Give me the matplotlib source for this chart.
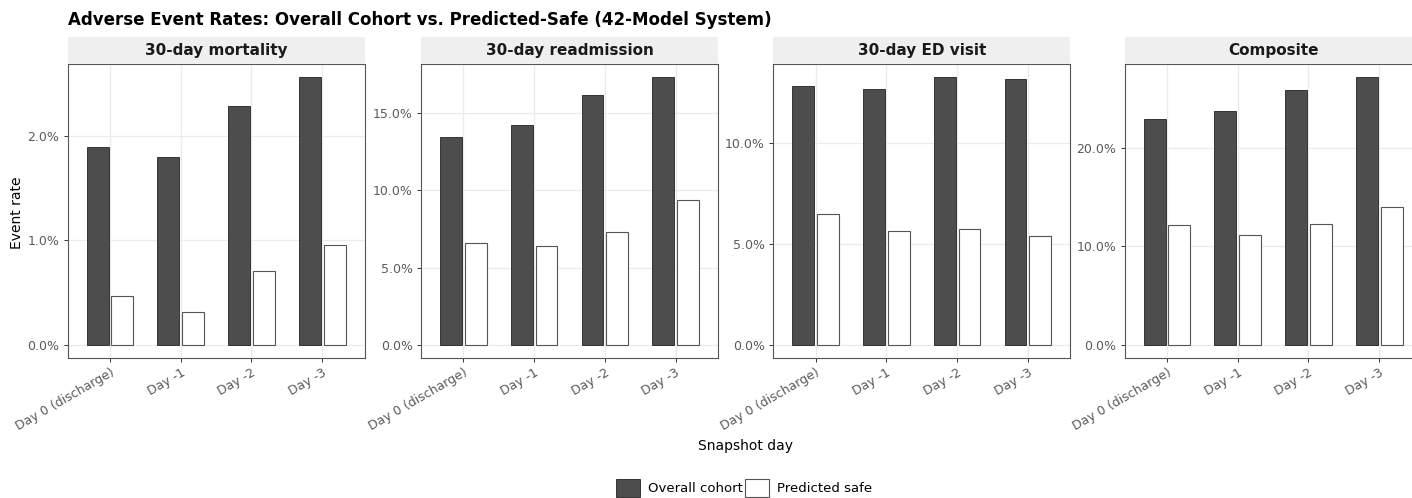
import numpy as np
import matplotlib
matplotlib.use("Agg")
from matplotlib import pyplot as plt
from matplotlib.ticker import FuncFormatter
from matplotlib.patches import Patch

# values (percent)
days = ["Day 0 (discharge)", "Day -1", "Day -2", "Day -3"]
outcomes = ["30-day mortality", "30-day readmission", "30-day ED visit", "Composite"]

overall_mortality = [1.89, 1.80, 2.29, 2.56]
safe_mortality = [0.47, 0.31, 0.71, 0.95]
overall_readmit = [13.44, 14.25, 16.18, 17.33]
safe_readmit = [6.58, 6.41, 7.29, 9.38]
overall_ed = [12.81, 12.65, 13.25, 13.17]
safe_ed = [6.47, 5.65, 5.74, 5.41]
overall_comp = [23.02, 23.76, 25.94, 27.21]
safe_comp = [12.15, 11.17, 12.28, 14.06]

overall = [overall_mortality, overall_readmit, overall_ed, overall_comp]
safe = [safe_mortality, safe_readmit, safe_ed, safe_comp]
yticks = [[0, 1, 2], [0, 5, 10, 15], [0, 5, 10], [0, 10, 20]]

W, H = 1412, 498
fig = plt.figure(figsize=(W / 100, H / 100), dpi=100)

DARK = "#4D4D4D"
GRID = "#EBEBEB"
TXT = "#4D4D4D"

lefts = [67.6, 421.0, 773.3, 1124.6]
pw = 297.0
top, bottom = 64.0, 358.0
strip_h = 27.0

x = np.arange(len(days))
off = 0.175
bw = 0.31

for i, name in enumerate(outcomes):
    ax = fig.add_axes([lefts[i] / W, 1 - bottom / H, pw / W, (bottom - top) / H])
    ov = np.array(overall[i])
    sf = np.array(safe[i])
    ax.bar(x - off, ov, width=bw, color=DARK, edgecolor="#222222", linewidth=0.6, zorder=3)
    ax.bar(x + off, sf, width=bw, color="white", edgecolor="#555555", linewidth=0.8, zorder=3)
    ymax = max(ov.max(), sf.max())
    ax.set_ylim(-0.05 * ymax, 1.05 * ymax)
    ax.set_xlim(-0.6, len(days) - 0.4)
    ax.set_yticks(yticks[i])
    ax.yaxis.set_major_formatter(FuncFormatter(lambda v, p: f"{v:.1f}%"))
    ax.set_xticks(x)
    ax.set_xticklabels(days, rotation=30, ha="right", rotation_mode="anchor")
    ax.tick_params(axis="both", labelsize=9, colors=TXT, length=3, width=0.7, pad=3)
    ax.tick_params(axis="both", labelcolor="#5A5A5A", color="#333333")
    ax.grid(True, color=GRID, linewidth=0.9, zorder=0)
    ax.set_axisbelow(True)
    for s in ax.spines.values():
        s.set_color("#555555")
        s.set_linewidth(0.8)

    # facet strip
    sax = fig.add_axes([lefts[i] / W, 1 - top / H, pw / W, strip_h / H])
    sax.set_xticks([])
    sax.set_yticks([])
    sax.set_facecolor("#EFEFEF")
    for s in sax.spines.values():
        s.set_visible(False)
    sax.text(0.5, 0.5, name, ha="center", va="center", fontsize=11,
             fontweight="bold", color="#1A1A1A", transform=sax.transAxes)

fig.text(68 / W, 1 - 20 / H, "Adverse Event Rates: Overall Cohort vs. Predicted-Safe (42-Model System)",
         ha="left", va="center", fontsize=12, fontweight="bold")
fig.text(17 / W, 1 - 213 / H, "Event rate", rotation=90, ha="center", va="center", fontsize=10)
fig.text(745 / W, 1 - 446 / H, "Snapshot day", ha="center", va="center", fontsize=10)

handles = [Patch(facecolor=DARK, edgecolor="#222222", linewidth=0.6, label="Overall cohort"),
           Patch(facecolor="white", edgecolor="#555555", linewidth=0.8, label="Predicted safe")]
fig.legend(handles=handles, loc="center", bbox_to_anchor=(744 / W, 1 - 488 / H), ncol=2,
           frameon=False, fontsize=9.5, handlelength=1.8, handleheight=1.8,
           columnspacing=0.2, handletextpad=0.6, borderaxespad=0, borderpad=0)

fig.savefig("out.png", dpi=100)
